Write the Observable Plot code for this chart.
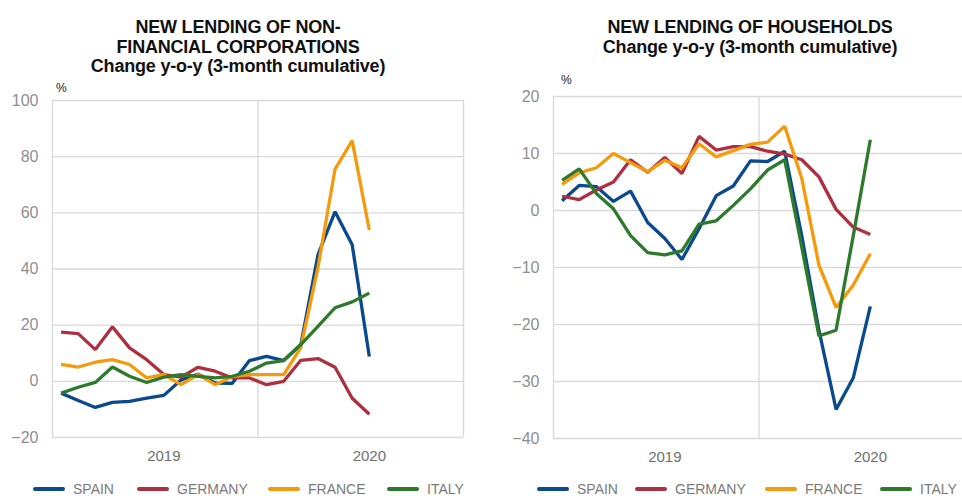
<!DOCTYPE html>
<html>
<head>
<meta charset="utf-8">
<script src="https://cdn.jsdelivr.net/npm/d3@7"></script>
<script src="https://cdn.jsdelivr.net/npm/@observablehq/plot@0.6"></script>
<style>
  html, body { margin: 0; padding: 0; background: #fff; overflow: hidden; }
  #root { position: relative; width: 962px; height: 496px; overflow: hidden; font-family: "Liberation Sans", Arial, sans-serif; }
  .title { position: absolute; text-align: center; font-family: "Liberation Sans", Arial, sans-serif; font-weight: bold; font-size: 18px; line-height: 19.5px; color: #111; letter-spacing: -0.2px; }
  .pct { position: absolute; font-size: 12px; color: #222; }
  .chart { position: absolute; }
  .leg { position: absolute; display: flex; align-items: center; font-size: 14px; color: #7a7a7a; white-space: nowrap; }
  .leg span.sw { display: inline-block; width: 32px; height: 4px; border-radius: 2px; margin-right: 8px; }
</style>
</head>
<body>
<div id="root"></div>
<script>
// ---- data ----
const series = ["SPAIN", "GERMANY", "FRANCE", "ITALY"];
const colors = ["#0a4a8c", "#ad3041", "#f59a0c", "#2e7a2c"];
const axisMonths = ["2019-01","2019-02","2019-03","2019-04","2019-05","2019-06","2019-07","2019-08","2019-09","2019-10","2019-11","2019-12",
                    "2020-01","2020-02","2020-03","2020-04","2020-05","2020-06","2020-07","2020-08","2020-09","2020-10","2020-11","2020-12"];
const months = ["2019-01","2019-02","2019-03","2019-04","2019-05","2019-06","2019-07","2019-08","2019-09","2019-10","2019-11","2019-12",
                "2020-01","2020-02","2020-03","2020-04","2020-05","2020-06","2020-07"];
const yearLabels = ["2019", "2020"];
const yearLabelMonths = ["2019-07", "2020-07"];

// Non-financial corporations
const nfcSpain   = [-4.2, -6.8, -9.3, -7.5, -7.1, -6.0, -5.0, 0.5, 2.5, -0.6, -0.7, 7.4, 8.9, 7.4, 13.0, 45.0, 60.4, 48.6, 8.8];
const nfcGermany = [17.5, 17.0, 11.3, 19.4, 11.9, 7.7, 2.4, 1.5, 5.0, 3.6, 1.2, 1.2, -1.2, 0.0, 7.5, 8.1, 5.0, -6.0, -11.7];
const nfcFrance  = [6.0, 5.1, 6.8, 7.7, 6.0, 1.2, 2.4, -1.2, 2.4, -1.2, 1.7, 2.4, 2.4, 2.4, 12.0, 40.5, 75.6, 85.7, 53.9];
const nfcItaly   = [-4.2, -2.1, -0.4, 5.1, 1.8, -0.4, 1.5, 2.4, 1.8, 1.2, 1.8, 3.6, 6.5, 7.4, 13.1, 19.6, 26.2, 28.3, 31.4];
const nfcTicks = [-20, 0, 20, 40, 60, 80, 100];

// Households
const hhSpain   = [1.7, 4.4, 4.2, 1.6, 3.4, -2.1, -4.9, -8.6, -3.2, 2.6, 4.3, 8.7, 8.6, 10.4, -4.5, -21.0, -34.9, -29.4, -16.8];
const hhGermany = [2.5, 1.9, 3.6, 5.0, 8.9, 6.7, 9.3, 6.5, 13.0, 10.6, 11.2, 11.2, 10.4, 9.9, 8.9, 5.9, 0.2, -2.9, -4.2];
const hhFrance  = [4.6, 6.6, 7.5, 10.0, 8.4, 6.8, 8.8, 7.5, 11.7, 9.4, 10.5, 11.6, 12.0, 14.8, 5.6, -9.6, -17.0, -13.1, -7.6];
const hhItaly   = [5.3, 7.3, 3.0, 0.3, -4.4, -7.4, -7.8, -7.1, -2.4, -1.8, 0.9, 3.8, 7.1, 8.9, -6.5, -22.0, -21.0, -4.5, 12.4];
const hhTicks = [-40, -30, -20, -10, 0, 10, 20];

// ---- helpers ----
const root = document.getElementById("root");
const pos = m => axisMonths.indexOf(m) + 0.5;

function table(vals) {
  const rows = [];
  series.forEach((s, k) => months.forEach((m, i) => rows.push({series: s, x: pos(m), y: vals[k][i]})));
  return rows;
}

function makeChart(opts) {
  const data = table(opts.values);
  const svg = Plot.plot({
    width: opts.width, height: opts.height,
    marginTop: opts.mt, marginBottom: opts.mb, marginLeft: opts.ml, marginRight: opts.mr,
    style: {fontFamily: "Liberation Sans, Arial, sans-serif", background: "transparent", overflow: "visible"},
    x: {domain: [0, axisMonths.length]},
    y: {domain: [opts.ticks[0], opts.ticks[opts.ticks.length - 1]]},
    color: {domain: series, range: colors},
    marks: [
      Plot.ruleY(opts.ticks, {stroke: "#d9d9d9", strokeWidth: 1.3}),
      Plot.ruleX([0, 12, 24], {stroke: "#d9d9d9", strokeWidth: 1.3}),
      Plot.line(data, {x: "x", y: "y", z: "series", stroke: "series", strokeWidth: 3.3, strokeLinejoin: "miter", strokeLinecap: "butt"}),
      Plot.axisY({ticks: opts.ticks, tickSize: 0, tickPadding: 14, fontSize: 16, color: "#8f8f8f", label: null}),
      Plot.axisX({ticks: yearLabelMonths.map(pos), tickFormat: (d) => yearLabels[yearLabelMonths.map(pos).indexOf(d)], tickSize: 0, tickPadding: 13, fontSize: 15, color: "#707070", label: null})
    ]
  });
  svg.classList.add("chart");
  svg.style.left = opts.left + "px";
  svg.style.top = opts.top + "px";
  root.appendChild(svg);
}

function addTitle(lines, cx, top) {
  const d = document.createElement("div");
  d.className = "title";
  d.style.left = (cx - 220) + "px";
  d.style.width = "440px";
  d.style.top = top + "px";
  d.innerHTML = lines.join("<br>");
  root.appendChild(d);
}
function addPct(x, y) {
  const d = document.createElement("div");
  d.className = "pct"; d.textContent = "%";
  d.style.left = x + "px"; d.style.top = y + "px";
  root.appendChild(d);
}
function addLegend(lefts, y) {
  series.forEach((s, k) => {
    const d = document.createElement("div");
    d.className = "leg";
    d.style.left = lefts[k] + "px";
    d.style.top = (y - 9) + "px";
    d.innerHTML = `<span class="sw" style="background:${colors[k]}"></span>${s}`;
    root.appendChild(d);
  });
}

// ---- left chart ----
addTitle(["NEW LENDING OF NON-", "FINANCIAL CORPORATIONS", "Change y-o-y (3-month cumulative)"], 238, 18);
addPct(56, 81);
makeChart({values: [nfcSpain, nfcGermany, nfcFrance, nfcItaly], ticks: nfcTicks,
  left: 0, top: 80, width: 481, height: 390, mt: 20, mb: 33, ml: 52, mr: 18});
addLegend([33, 137, 268, 387], 490);

// ---- right chart ----
addTitle(["NEW LENDING OF HOUSEHOLDS", "Change y-o-y (3-month cumulative)"], 750, 18);
addPct(561, 73);
makeChart({values: [hhSpain, hhGermany, hhFrance, hhItaly], ticks: hhTicks,
  left: 481, top: 80, width: 483, height: 390, mt: 16, mb: 32, ml: 72, mr: 0});
addLegend([537, 635, 765, 880], 490);
</script>
</body>
</html>
